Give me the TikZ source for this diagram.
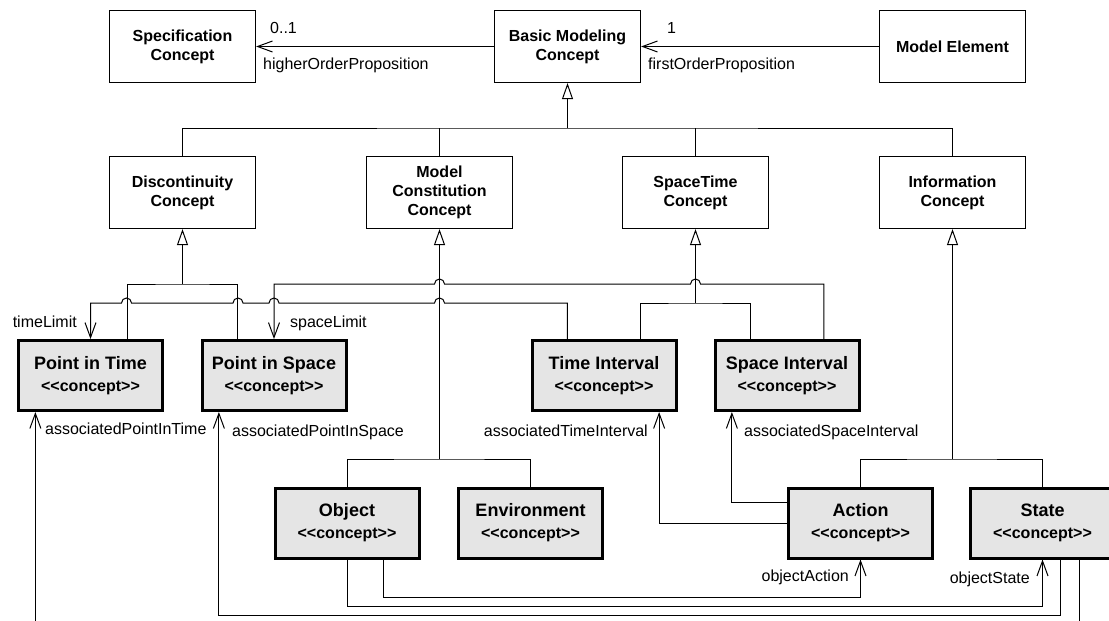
\documentclass[tikz,border=0pt]{standalone}
\usepackage{fontspec}
\newfontfamily\umlfont{Liberation Sans}
\usetikzlibrary{arrows.meta,calc}
\newcommand{\conceptname}[1]{{\fontsize{18}{22}\selectfont #1}}

\begin{document}
\begin{tikzpicture}[x=1pt, y=-1pt,
		concept/.style={draw, line width=1.2pt, minimum width=146pt, minimum height=72pt, align=center, inner sep=2pt, font=\umlfont\bfseries\fontsize{16}{19}\selectfont},
		stereo/.style={draw, fill=gray!20, line width=3pt, minimum width=144pt, minimum height=70pt, align=center, inner sep=2pt, font=\umlfont\bfseries\fontsize{16}{22}\selectfont},
		role/.style={inner sep=0pt, font=\umlfont\fontsize{16}{19}\selectfont},
		link/.style={line width=1pt},
		assoc/.style={link, -{Straight Barb[length=15pt, width=11pt]}},
		gen/.style={link, -{Triangle[open, length=16pt, width=11pt]}}]
			\useasboundingbox (0,0) rectangle (1109,621);
			\clip (0,0) rectangle (1109,621);
			
			%top row
			\node[concept] (spec) at (182.5,46.5) {Specification\\Concept};
			\node[concept] (bmc) at (567.5,46.5) {Basic Modeling\\Concept};
			\node[concept] (elem) at (952.5,46.5) {Model Element};
			
			%concept families
			\node[concept] (disc) at (182.5,192.5) {Discontinuity\\Concept};
			\node[concept] (mcc) at (439.5,192.5) {Model\\Constitution\\Concept};
			\node[concept] (stc) at (695.5,192.5) {SpaceTime\\Concept};
			\node[concept] (info) at (952.5,192.5) {Information\\Concept};
			
			%stereotyped concepts
			\node[stereo] (pit) at (90.5,375.5) {\conceptname{Point in Time}\\<<concept>>};
			\node[stereo] (pis) at (274,375.5) {\conceptname{Point in Space}\\<<concept>>};
			\node[stereo] (ti) at (604,375.5) {\conceptname{Time Interval}\\<<concept>>};
			\node[stereo] (si) at (787,375.5) {\conceptname{Space Interval}\\<<concept>>};
			\node[stereo] (obj) at (347,523) {\conceptname{Object}\\<<concept>>};
			\node[stereo] (env) at (530.5,523) {\conceptname{Environment}\\<<concept>>};
			\node[stereo] (act) at (860.5,523) {\conceptname{Action}\\<<concept>>};
			\node[stereo] (state) at (1042.5,523) {\conceptname{State}\\<<concept>>};
			
			%ports
			\coordinate (pitgen) at ($(pit.north west)!.75!(pit.north east)$);
			\coordinate (pisgen) at ($(pis.north west)!.25!(pis.north east)$);
			\coordinate (titime) at ($(ti.north west)!.25!(ti.north east)$);
			\coordinate (tigen) at ($(ti.north west)!.75!(ti.north east)$);
			\coordinate (sigen) at ($(si.north west)!.25!(si.north east)$);
			\coordinate (sispace) at ($(si.north west)!.75!(si.north east)$);
			\coordinate (pitend) at ($(pit.south west)!.125!(pit.south east)$);
			\coordinate (pisend) at ($(pis.south west)!.125!(pis.south east)$);
			\coordinate (tiend) at ($(ti.south west)!.875!(ti.south east)$);
			\coordinate (siend) at ($(si.south west)!.125!(si.south east)$);
			\coordinate (objact) at ($(obj.south west)!.75!(obj.south east)$);
			\coordinate (actsi) at ($(act.north west)!.22!(act.south west)$);
			\coordinate (stpis) at ($(state.south west)!.625!(state.south east)$);
			\coordinate (stpit) at ($(state.south west)!.75!(state.south east)$);
			
			\coordinate (bmcbar) at (567.5,128);
			\coordinate (discbar) at (182.5,284);
			\coordinate (stcbar) at (695.5,303);
			\coordinate (mccbar) at (439.5,459);
			\coordinate (infobar) at (952.5,459);
			
			%generalizations
			\draw[link] (disc.north) |- (bmcbar) -| (info.north);
			\foreach \n in {mcc, stc}{
				\draw[link] (\n.north) -- (\n.north |- bmcbar);
			}
			\draw[gen] (bmcbar) -- (bmc.south);
			\draw[link] (pitgen) |- (discbar) -| (pisgen);
			\draw[gen] (discbar) -- (disc.south);
			\draw[link] (obj.north) |- (mccbar) -| (env.north);
			\draw[gen] (mccbar) -- (mcc.south);
			\draw[link] (tigen) |- (stcbar) -| (sigen);
			\draw[gen] (stcbar) -- (stc.south);
			\draw[link] (act.north) |- (infobar) -| (state.north);
			\draw[gen] (infobar) -- (info.south);
			
			%associations
			\draw[assoc] (bmc.west) -- (spec.east);
			\draw[assoc] (elem.west) -- (bmc.east);
			\draw[assoc] (titime) -- (titime |- stcbar) foreach \x in {439.5, 274, 238, 126.5}{ -- (\x+5,303) arc[start angle=0, end angle=-180, radius=5]} -| (pit.north);
			\draw[assoc] (sispace) -- (sispace |- discbar) foreach \x in {695.5, 439.5}{ -- (\x+5,284) arc[start angle=0, end angle=-180, radius=5]} -| (pis.north);
			\draw[assoc] (actsi) -| (siend);
			\draw[assoc] (act.west) -| (tiend);
			\draw[assoc] (objact) -- ++(0,38) -| (act.south);
			\draw[assoc] (obj.south) -- ++(0,47) -| (state.south);
			\draw[assoc] (stpis) -- ++(0,56) -| (pisend);
			\draw[assoc] (stpit) -- ++(0,80) -| (pitend);
			
			%role names
			\node[role, anchor=base west] (hopmult) at (270,33) {0..1};
			\node[role, anchor=base west] (hop) at (263,69) {higherOrderProposition};
			\node[role, anchor=base west] (fopmult) at (667,33) {1};
			\node[role, anchor=base west] (fop) at (648,69) {firstOrderProposition};
			\node[role, anchor=base east] (tlimit) at (77,327) {timeLimit};
			\node[role, anchor=base west] (slimit) at (290,327) {spaceLimit};
			\node[role, anchor=base west] (apit) at (45,434) {associatedPointInTime};
			\node[role, anchor=base west] (apis) at (232,436) {associatedPointInSpace};
			\node[role, anchor=base east] (ati) at (648,436) {associatedTimeInterval};
			\node[role, anchor=base west] (asi) at (744,436) {associatedSpaceInterval};
			\node[role, anchor=base east] (oact) at (849,581) {objectAction};
			\node[role, anchor=base east] (ostate) at (1030,583) {objectState};
		\end{tikzpicture}
\end{document}
